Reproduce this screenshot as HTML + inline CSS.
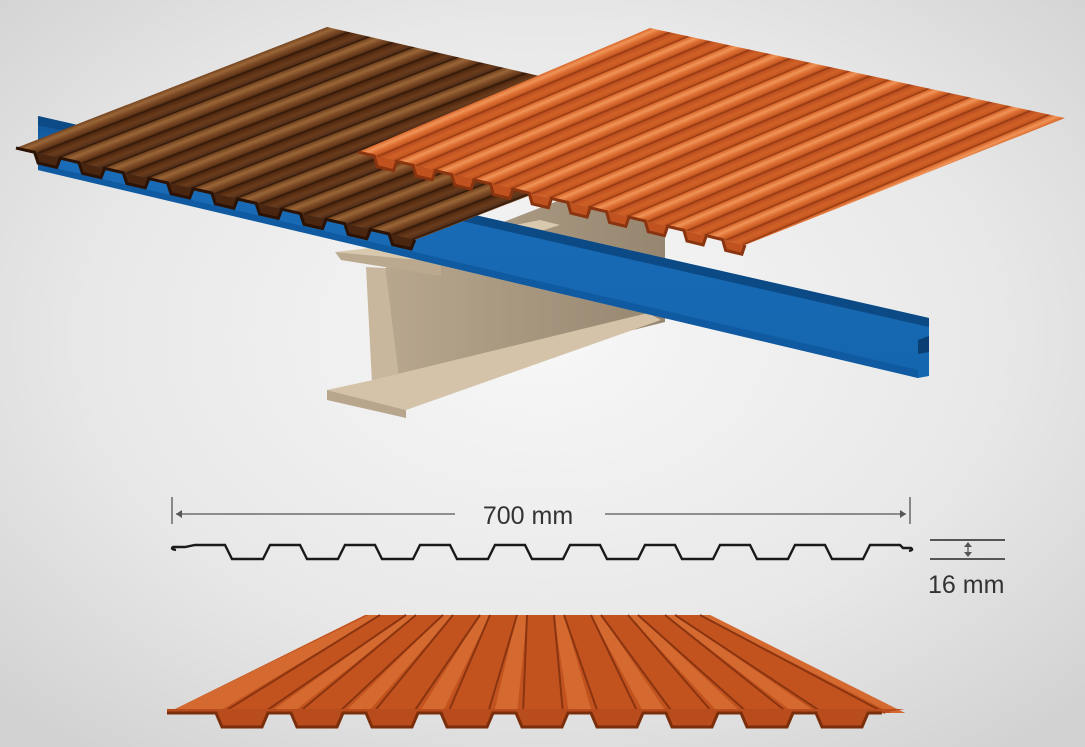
<!DOCTYPE html>
<html><head><meta charset="utf-8"><style>
html,body{margin:0;padding:0;width:1085px;height:747px;overflow:hidden;background:#e6e6e6}
svg{display:block}
</style></head><body>
<svg width="1085" height="747" viewBox="0 0 1085 747" xmlns="http://www.w3.org/2000/svg">
<defs>
<radialGradient id="bg" cx="0.5" cy="0.45" r="0.7">
<stop offset="0" stop-color="#f7f7f7"/><stop offset="0.6" stop-color="#e8e8e8"/><stop offset="1" stop-color="#d2d2d2"/>
</radialGradient>
<linearGradient id="bs" x1="0" y1="0" x2="1" y2="0">
<stop offset="0" stop-color="#74441f"/><stop offset="0.15" stop-color="#9a6638"/><stop offset="0.3" stop-color="#7a4824"/><stop offset="0.42" stop-color="#66391a"/><stop offset="0.5" stop-color="#2e1608"/><stop offset="0.55" stop-color="#52290f"/><stop offset="0.75" stop-color="#6a3c1c"/><stop offset="0.9" stop-color="#56301a"/><stop offset="0.96" stop-color="#2a1406"/><stop offset="1" stop-color="#74441f"/>
</linearGradient>
<pattern id="bp" patternUnits="userSpaceOnUse" width="1" height="1" patternTransform="matrix(44.3 10.2 3.11 -1.21 16 148)">
<rect x="0" y="0" width="1" height="1" fill="url(#bs)"/>
</pattern>
<linearGradient id="os" x1="0" y1="0" x2="1" y2="0">
<stop offset="0" stop-color="#d9682c"/><stop offset="0.15" stop-color="#f09458"/><stop offset="0.3" stop-color="#dc6e32"/><stop offset="0.42" stop-color="#cc5e26"/><stop offset="0.5" stop-color="#8e3510"/><stop offset="0.55" stop-color="#bd5020"/><stop offset="0.75" stop-color="#d06228"/><stop offset="0.9" stop-color="#c4561f"/><stop offset="0.96" stop-color="#8a3410"/><stop offset="1" stop-color="#d9682c"/>
</linearGradient>
<pattern id="op" patternUnits="userSpaceOnUse" width="1" height="1" patternTransform="matrix(38.7 9.3 2.92 -1.24 358 152)">
<rect x="0" y="0" width="1" height="1" fill="url(#os)"/>
</pattern>
<linearGradient id="blue" x1="0" y1="0" x2="0" y2="1">
<stop offset="0" stop-color="#0d4f90"/><stop offset="0.15" stop-color="#1a6cb8"/><stop offset="1" stop-color="#1466ae"/>
</linearGradient>
<linearGradient id="web" x1="0" y1="0" x2="1" y2="0">
<stop offset="0" stop-color="#b8a78e"/><stop offset="1" stop-color="#968670"/>
</linearGradient>
</defs>
<rect width="1085" height="747" fill="url(#bg)"/>

<!-- I-beam -->
<polygon points="385,268 560,200 665,210 665,322 400,388" fill="url(#web)"/>
<polygon points="366,267 385,268 400,388 372,383" fill="#c9b79d"/>
<polygon points="327,390 373,380 648,313 661,320 406,410" fill="#d4c3a9"/>
<polygon points="327,390 406,410 406,418 327,400" fill="#b8a68c"/>
<polygon points="335,252 440,240 540,220 560,225 441,262" fill="#d8c8ae"/>
<polygon points="335,252 441,262 441,276 341,260" fill="#bba98f"/>

<!-- blue channel -->
<polygon points="38,116 929,318 929,376 918,378 38,170" fill="url(#blue)"/>
<polygon points="38,116 929,318 929,327 38,125" fill="#0c4a86"/>
<polygon points="38,164 918,370 918,378 38,170" fill="#0f5aa0"/>
<polygon points="918,340 929,336 929,352 918,354" fill="#0a3f74"/>

<!-- brown sheet -->
<polygon points="16,148 327,27 726,119 415,240" fill="url(#bp)"/>
<g transform="matrix(44.3 10.2 0 1 16 148)">
<path d="M0,0 h0.42 l0.08,10 h0.42 l0.08,-10 h0.42 l0.08,10 h0.42 l0.08,-10 h0.42 l0.08,10 h0.42 l0.08,-10 h0.42 l0.08,10 h0.42 l0.08,-10 h0.42 l0.08,10 h0.42 l0.08,-10 h0.42 l0.08,10 h0.42 l0.08,-10 h0.42 l0.08,10 h0.42 l0.08,-10 h0.42 l0.08,10 h0.42 l0.08,-10 h0.42 l0.08,10 h0.42 l0.08,-10 Z" fill="#4a2510"/>
<path d="M0,0 h0.42 l0.08,10 h0.42 l0.08,-10 h0.42 l0.08,10 h0.42 l0.08,-10 h0.42 l0.08,10 h0.42 l0.08,-10 h0.42 l0.08,10 h0.42 l0.08,-10 h0.42 l0.08,10 h0.42 l0.08,-10 h0.42 l0.08,10 h0.42 l0.08,-10 h0.42 l0.08,10 h0.42 l0.08,-10 h0.42 l0.08,10 h0.42 l0.08,-10 h0.42 l0.08,10 h0.42 l0.08,-10" fill="none" stroke="#2a1204" stroke-width="3" vector-effect="non-scaling-stroke"/>
</g>

<!-- orange sheet -->
<polygon points="358,152 650,28 1065,118 745,245" fill="url(#op)"/>
<g transform="matrix(38.7 9.3 0 1 358 152)">
<path d="M0,0 h0.42 l0.08,10 h0.42 l0.08,-10 h0.42 l0.08,10 h0.42 l0.08,-10 h0.42 l0.08,10 h0.42 l0.08,-10 h0.42 l0.08,10 h0.42 l0.08,-10 h0.42 l0.08,10 h0.42 l0.08,-10 h0.42 l0.08,10 h0.42 l0.08,-10 h0.42 l0.08,10 h0.42 l0.08,-10 h0.42 l0.08,10 h0.42 l0.08,-10 h0.42 l0.08,10 h0.42 l0.08,-10 h0.42 l0.08,10 h0.42 l0.08,-10 Z" fill="#c0521f"/>
<path d="M0,0 h0.42 l0.08,10 h0.42 l0.08,-10 h0.42 l0.08,10 h0.42 l0.08,-10 h0.42 l0.08,10 h0.42 l0.08,-10 h0.42 l0.08,10 h0.42 l0.08,-10 h0.42 l0.08,10 h0.42 l0.08,-10 h0.42 l0.08,10 h0.42 l0.08,-10 h0.42 l0.08,10 h0.42 l0.08,-10 h0.42 l0.08,10 h0.42 l0.08,-10 h0.42 l0.08,10 h0.42 l0.08,-10 h0.42 l0.08,10 h0.42 l0.08,-10" fill="none" stroke="#8a3410" stroke-width="3" vector-effect="non-scaling-stroke"/>
</g>

<!-- dimension -->
<g stroke="#555" stroke-width="1.3" fill="none">
<line x1="172" y1="497" x2="172" y2="524"/>
<line x1="910" y1="497" x2="910" y2="524"/>
<line x1="176" y1="514" x2="455" y2="514"/>
<line x1="605" y1="514" x2="906" y2="514"/>
<line x1="930" y1="540" x2="1005" y2="540" stroke-width="2"/>
<line x1="930" y1="559" x2="1005" y2="559" stroke-width="2"/>
<line x1="968" y1="543" x2="968" y2="556"/>
</g>
<polygon points="176,514 182,510 182,518" fill="#555"/>
<polygon points="906,514 900,510 900,518" fill="#555"/>
<polygon points="968,542 964,547 972,547" fill="#555"/>
<polygon points="968,557 964,552 972,552" fill="#555"/>
<text x="528" y="524" text-anchor="middle" font-family="Liberation Sans, sans-serif" font-size="25" fill="#333">700 mm</text>
<text x="928" y="593" font-family="Liberation Sans, sans-serif" font-size="25" fill="#333">16 mm</text>

<path d="M176,550 q-6,-1 -3,-3 h12 l10,-2 h30 l7,14 h31 l7,-14 h30 l7,14 h31 l7,-14 h30 l7,14 h31 l7,-14 h30 l7,14 h31 l7,-14 h30 l7,14 h31 l7,-14 h30 l7,14 h31 l7,-14 h30 l7,14 h31 l7,-14 h30 l7,14 h31 l7,-14 h30 l7,14 h31 l7,-14 h30 l3,3 h8 q3,2 -2,3" fill="none" stroke="#1a1a1a" stroke-width="2.4"/>

<!-- bottom sheet -->
<polygon points="365,615 710,615 905,713 167,713" fill="#c2531f"/>
<g fill="#d56a30">
<polygon points="369,615 380,615 216,713 167,713"/>
<polygon points="406,615 416,615 292,713 269,713"/>
<polygon points="443,615 453,615 367,713 344,713"/>
<polygon points="480,615 490,615 442,713 419,713"/>
<polygon points="517,615 527,615 517,713 494,713"/>
<polygon points="554,615 564,615 592,713 569,713"/>
<polygon points="591,615 601,615 667,713 644,713"/>
<polygon points="628,615 638,615 742,713 719,713"/>
<polygon points="665,615 675,615 817,713 794,713"/>
<polygon points="700,615 710,615 905,713 891,713"/>
</g>
<g stroke="#8a3410" stroke-width="2" fill="none">
<line x1="380" y1="615" x2="222" y2="713"/><line x1="406" y1="615" x2="263" y2="713"/>
<line x1="416" y1="615" x2="298" y2="713"/><line x1="443" y1="615" x2="338" y2="713"/>
<line x1="453" y1="615" x2="373" y2="713"/><line x1="480" y1="615" x2="413" y2="713"/>
<line x1="490" y1="615" x2="448" y2="713"/><line x1="517" y1="615" x2="488" y2="713"/>
<line x1="527" y1="615" x2="523" y2="713"/><line x1="554" y1="615" x2="563" y2="713"/>
<line x1="564" y1="615" x2="598" y2="713"/><line x1="591" y1="615" x2="638" y2="713"/>
<line x1="601" y1="615" x2="673" y2="713"/><line x1="628" y1="615" x2="713" y2="713"/>
<line x1="638" y1="615" x2="748" y2="713"/><line x1="665" y1="615" x2="788" y2="713"/>
<line x1="675" y1="615" x2="823" y2="713"/><line x1="700" y1="615" x2="885" y2="713"/>
</g>
<path d="M167,713 h49 l6,14 h40 l6,-14 h23 l6,14 h40 l6,-14 h23 l6,14 h40 l6,-14 h23 l6,14 h40 l6,-14 h23 l6,14 h40 l6,-14 h23 l6,14 h40 l6,-14 h23 l6,14 h40 l6,-14 h23 l6,14 h40 l6,-14 h23 l6,14 h40 l6,-14 h14 L905,709 L167,709 Z" fill="#b84c1c"/>
<path d="M167,713 h49 l6,14 h40 l6,-14 h23 l6,14 h40 l6,-14 h23 l6,14 h40 l6,-14 h23 l6,14 h40 l6,-14 h23 l6,14 h40 l6,-14 h23 l6,14 h40 l6,-14 h23 l6,14 h40 l6,-14 h23 l6,14 h40 l6,-14 h23 l6,14 h40 l6,-14 h14" fill="none" stroke="#7a2e0c" stroke-width="3"/>
</svg>
</body></html>
